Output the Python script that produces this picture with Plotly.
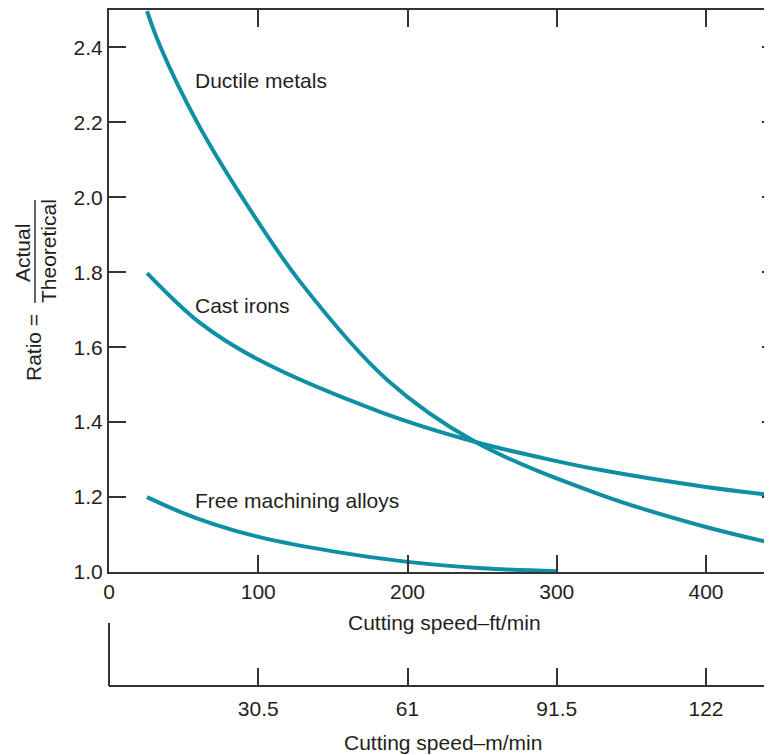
import plotly.graph_objects as go

# ---- data ----
ductile_x = [25.5, 34.2, 58.8, 88.9, 128, 186.6, 245.6, 329.5, 400, 449]
ductile_y = [2.497, 2.404, 2.202, 2.002, 1.775, 1.512, 1.347, 1.206, 1.12, 1.073]

cast_x = [25.5, 61, 100, 182, 245.6, 300, 329.5, 400, 449]
cast_y = [1.798, 1.665, 1.567, 1.427, 1.347, 1.296, 1.272, 1.227, 1.203]

free_x = [25.5, 48, 70, 101, 150, 200, 250, 300]
free_y = [1.20, 1.16, 1.128, 1.093, 1.055, 1.027, 1.01, 1.002]

ft_ticks = [0, 100, 200, 300, 400]
ratio_ticks = [1.0, 1.2, 1.4, 1.6, 1.8, 2.0, 2.2, 2.4]
m_ticks = [30.5, 61, 91.5, 122]
m_ticklabels = ["30.5", "61", "91.5", "122"]
FT_TO_M = 0.305

series_labels = ["Ductile metals", "Cast irons", "Free machining alloys"]
label_pos_x = [56.0, 56.0, 56.0]
label_pos_y = [2.311, 1.710, 1.192]

# ---- styling ----
OFF = 8  # page body margin
W, H = 764, 755
ML, MR, MT, MB = 109 - OFF, 0, 10 - OFF, H - (686 - OFF)
PW, PH = W - ML - MR, H - MT - MB
X_MAX = PW / 1.4925
TEAL = "#0e8fa4"
INK = "#231f20"
AX = "#333333"
FONT = "Liberation Sans, Arial, Helvetica, sans-serif"
FS = 21


def px_x(px):
    return (px - OFF - ML) / PW


def px_y(py):
    return (H - MB - (py - OFF)) / PH


main_bottom = px_y(572)

fig = go.Figure()
for xs, ys in [(ductile_x, ductile_y), (cast_x, cast_y), (free_x, free_y)]:
    fig.add_trace(go.Scatter(x=xs, y=ys, mode="lines",
                             line=dict(color=TEAL, width=4, shape="spline", smoothing=1.0),
                             showlegend=False, hoverinfo="skip"))
# empty helper traces so the extra axes render
fig.add_trace(go.Scatter(x=[], y=[], yaxis="y2", showlegend=False, hoverinfo="skip"))
fig.add_trace(go.Scatter(x=[], y=[], xaxis="x2", showlegend=False, hoverinfo="skip"))

tick_common = dict(ticks="inside", ticklen=17, tickwidth=1.5, tickcolor=AX,
                   showgrid=False, zeroline=False,
                   tickfont=dict(family=FONT, size=FS, color=INK))

fig.update_layout(
    width=W, height=H,
    margin=dict(l=ML, r=MR, t=MT, b=MB, pad=0),
    paper_bgcolor="white", plot_bgcolor="white",
    font=dict(family=FONT, size=FS, color=INK),
    xaxis=dict(range=[0, X_MAX], domain=[0, 1], anchor="y",
               tickvals=ft_ticks, showline=True, linewidth=2, linecolor=AX,
               mirror="ticks", **tick_common),
    yaxis=dict(range=[1.0, 2.5], domain=[main_bottom, 1], anchor="x",
               tickvals=ratio_ticks, tickformat=".1f",
               showline=True, linewidth=2, linecolor=AX, **tick_common),
    yaxis2=dict(range=[1.0, 2.5], overlaying="y", side="right", anchor="x",
                tickvals=ratio_ticks, showticklabels=False, showline=False,
                ticks="inside", ticklen=10, tickwidth=1.5, tickcolor=AX,
                showgrid=False, zeroline=False),
    xaxis2=dict(range=[0, X_MAX * FT_TO_M], overlaying="x", anchor="free",
                position=0, side="bottom", ticklabelstandoff=4,
                tickvals=m_ticks, ticktext=m_ticklabels,
                showline=True, linewidth=2, linecolor=AX, **tick_common),
)

ann = []
for t, x, y in zip(series_labels, label_pos_x, label_pos_y):
    ann.append(dict(text=t, x=x, y=y, xref="x", yref="y", xanchor="left",
                    yanchor="middle", showarrow=False,
                    font=dict(family=FONT, size=FS, color=INK)))
ann.append(dict(text="Cutting speed\u2013ft/min", x=px_x(444), y=px_y(622),
                xref="paper", yref="paper", showarrow=False,
                xanchor="center", yanchor="middle"))
ann.append(dict(text="Cutting speed\u2013m/min", x=px_x(443), y=px_y(742),
                xref="paper", yref="paper", showarrow=False,
                xanchor="center", yanchor="middle"))
ann.append(dict(text="Ratio =", x=px_x(33), y=px_y(348), textangle=-90,
                xref="paper", yref="paper", showarrow=False,
                xanchor="center", yanchor="middle"))
ann.append(dict(text="Actual", x=px_x(22), y=px_y(253), textangle=-90,
                xref="paper", yref="paper", showarrow=False,
                xanchor="center", yanchor="middle"))
ann.append(dict(text="Theoretical", x=px_x(48), y=px_y(251), textangle=-90,
                xref="paper", yref="paper", showarrow=False,
                xanchor="center", yanchor="middle"))
fig.update_layout(annotations=ann)

fig.add_shape(type="line", xref="paper", yref="paper",
              x0=px_x(35), x1=px_x(35), y0=px_y(200), y1=px_y(303),
              line=dict(color=AX, width=1.5))
fig.add_shape(type="line", xref="paper", yref="paper",
              x0=0, x1=0, y0=0, y1=px_y(623),
              line=dict(color=AX, width=2))

fig.write_html("out.html")
